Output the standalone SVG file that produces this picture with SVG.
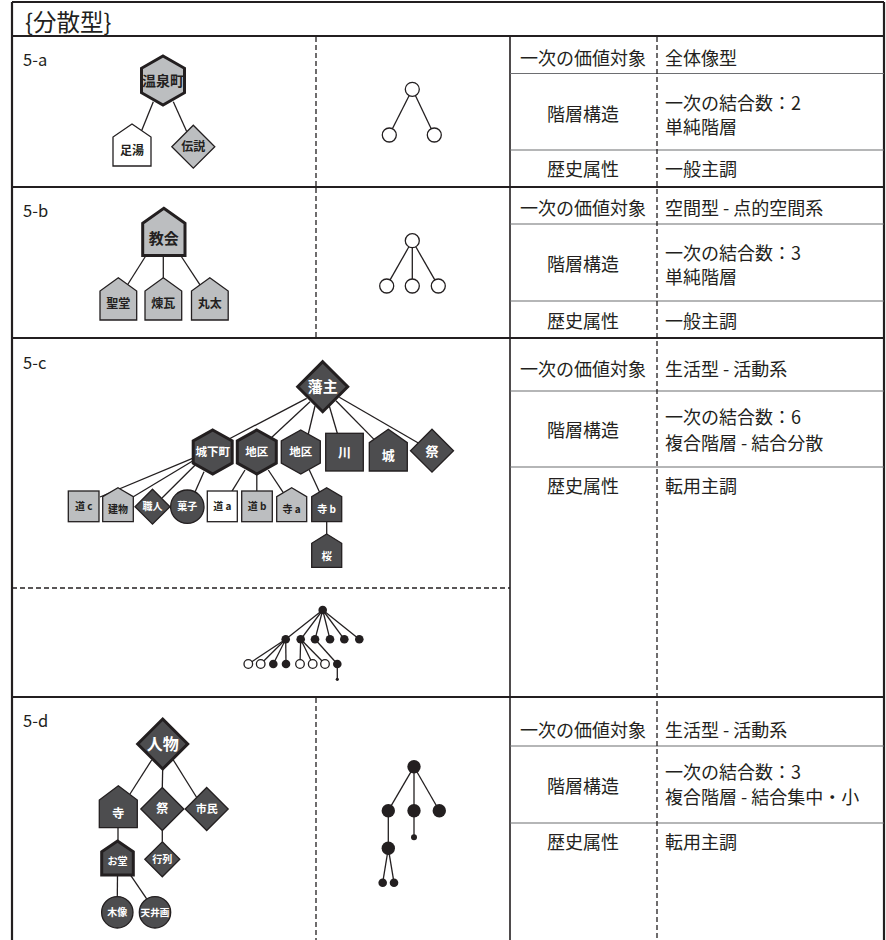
<svg xmlns="http://www.w3.org/2000/svg" width="886" height="940" viewBox="0 0 886 940">
<style>
.ln{stroke:#231f20;stroke-width:1.3;fill:none}
.nd{fill:#4d4d4f;stroke:#231f20;stroke-width:1.3}
.ng{fill:#bcbec0;stroke:#231f20;stroke-width:1.3}
.nw{fill:#fff;stroke:#231f20;stroke-width:1.3}
.bk{stroke-width:3}
.lb{font-family:"Noto Sans CJK JP","Noto Sans CJK SC",sans-serif;font-weight:700;text-anchor:middle}
.w{fill:#fff}
.d{fill:#231f20}
.tt{font-family:"Noto Sans CJK JP","Noto Sans CJK SC",sans-serif;font-size:18px;fill:#231f20}
.c{text-anchor:middle}
.frame{stroke:#231f20;stroke-width:2.2;fill:none}
.row{stroke:#6d6e71;stroke-width:1.2;fill:none}
.dash{stroke:#231f20;stroke-width:1.3;stroke-dasharray:5 3;fill:none}
.sc{fill:#fff;stroke:#231f20;stroke-width:1.3}
.sb{fill:#231f20}
</style>

<!-- frame -->
<g id="frame">
<line class="frame" x1="12" y1="2" x2="884" y2="2"/>
<line class="frame" x1="12" y1="2" x2="12" y2="940"/>
<line class="frame" x1="884" y1="2" x2="884" y2="940"/>
<line class="frame" x1="12" y1="36" x2="884" y2="36"/>
<line class="frame" x1="12" y1="187" x2="884" y2="187"/>
<line class="frame" x1="12" y1="338" x2="884" y2="338"/>
<line class="frame" x1="12" y1="697" x2="884" y2="697"/>
<line class="frame" x1="510" y1="36" x2="510" y2="940" style="stroke-width:1.6"/>
<line class="row" x1="510" y1="73.5" x2="884" y2="73.5"/>
<line class="row" x1="510" y1="150" x2="884" y2="150"/>
<line class="row" x1="510" y1="224" x2="884" y2="224"/>
<line class="row" x1="510" y1="301" x2="884" y2="301"/>
<line class="row" x1="510" y1="391" x2="884" y2="391"/>
<line class="row" x1="510" y1="467" x2="884" y2="467"/>
<line class="row" x1="510" y1="746" x2="884" y2="746"/>
<line class="row" x1="510" y1="823" x2="884" y2="823"/>
<line class="dash" x1="316" y1="37" x2="316" y2="186"/>
<line class="dash" x1="316" y1="188" x2="316" y2="337"/>
<line class="dash" x1="316" y1="698" x2="316" y2="940"/>
<line class="dash" x1="657" y1="37" x2="657" y2="940"/>
<line class="dash" x1="12" y1="588" x2="510" y2="588"/>
</g>

<text x="25" y="30.5" style="font-family:'Noto Sans CJK JP','Noto Sans CJK SC',sans-serif;font-size:23.5px;fill:#231f20">{分散型}</text>

<g class="tt">
<text x="23" y="65.5" style="font-size:16.5px">5-a</text>
<text x="23" y="217.4" style="font-size:16.5px">5-b</text>
<text x="23" y="368.7" style="font-size:16.5px">5-c</text>
<text x="23" y="726.7" style="font-size:16.5px">5-d</text>
</g>

<!-- table texts -->
<g class="tt">
<text class="c" x="583" y="64.8">一次の価値対象</text>
<text x="665" y="64.8">全体像型</text>
<text class="c" x="583" y="120.8">階層構造</text>
<text x="665" y="109.8">一次の結合数：2</text>
<text x="665" y="133.8">単純階層</text>
<text class="c" x="583" y="175.8">歴史属性</text>
<text x="665" y="175.8">一般主調</text>

<text class="c" x="583" y="214.8">一次の価値対象</text>
<text x="665" y="214.8">空間型 - 点的空間系</text>
<text class="c" x="583" y="270.8">階層構造</text>
<text x="665" y="259.8">一次の結合数：3</text>
<text x="665" y="283.8">単純階層</text>
<text class="c" x="583" y="327.8">歴史属性</text>
<text x="665" y="327.8">一般主調</text>

<text class="c" x="583" y="375.8">一次の価値対象</text>
<text x="665" y="375.8">生活型 - 活動系</text>
<text class="c" x="583" y="436.8">階層構造</text>
<text x="665" y="423.8">一次の結合数：6</text>
<text x="665" y="449.8">複合階層 - 結合分散</text>
<text class="c" x="583" y="492.8">歴史属性</text>
<text x="665" y="492.8">転用主調</text>

<text class="c" x="583" y="736.8">一次の価値対象</text>
<text x="665" y="736.8">生活型 - 活動系</text>
<text class="c" x="583" y="792.8">階層構造</text>
<text x="665" y="778.8">一次の結合数：3</text>
<text x="665" y="803.8">複合階層 - 結合集中・小</text>
<text class="c" x="583" y="848.8">歴史属性</text>
<text x="665" y="848.8">転用主調</text>
</g>

<!-- connectors -->
<g id="connectors" class="ln">
<line x1="153.3" y1="101.7" x2="141.7" y2="130.5"/>
<line x1="173.3" y1="101.7" x2="186.7" y2="131.5"/>
<line x1="145.7" y1="256" x2="127.7" y2="284.5"/>
<line x1="163.3" y1="256" x2="163.3" y2="278"/>
<line x1="181" y1="256" x2="200" y2="284.8"/>
<line x1="306.7" y1="398.3" x2="229" y2="439"/>
<line x1="310" y1="401.7" x2="271" y2="438"/>
<line x1="315" y1="406" x2="308.3" y2="434"/>
<line x1="329.3" y1="406" x2="337.3" y2="433.3"/>
<line x1="336" y1="400.7" x2="374" y2="439.4"/>
<line x1="339.3" y1="397.3" x2="418.3" y2="443"/>
<line x1="194.3" y1="457.7" x2="100" y2="497"/>
<line x1="194.3" y1="460" x2="133.3" y2="496.7"/>
<line x1="197" y1="463.3" x2="162" y2="498"/>
<line x1="204" y1="471.7" x2="195" y2="492"/>
<line x1="245" y1="470" x2="231.7" y2="491.7"/>
<line x1="256.8" y1="474" x2="256.8" y2="491"/>
<line x1="268.3" y1="470" x2="283.3" y2="492.7"/>
<line x1="309.3" y1="470" x2="319.5" y2="492"/>
<line x1="326.7" y1="521.7" x2="326.7" y2="534"/>
<line x1="151.7" y1="760" x2="130" y2="794"/>
<line x1="162.7" y1="768" x2="162.3" y2="787.5"/>
<line x1="173.3" y1="760" x2="196.7" y2="797.5"/>
<line x1="118" y1="827.7" x2="118" y2="841"/>
<line x1="162.3" y1="830.5" x2="162.3" y2="841.8"/>
<line x1="117.5" y1="875" x2="117.3" y2="896.6"/>
<line x1="130.7" y1="875.3" x2="146.7" y2="898.9"/>
</g>

<!-- 5-a nodes -->
<g id="n-onsenmachi"><polygon class="ng bk" points="163,56 184.5,68.3 184.5,92.7 163,105 141.5,92.7 141.5,68.3"/><text class="lb d" x="163" y="85.5" font-size="14">温泉町</text></g>
<g id="n-ashiyu"><polygon class="nw" points="132,124 151,137 151,166 113,166 113,137"/><text class="lb d" x="132" y="155" font-size="12">足湯</text></g>
<g id="n-densetsu"><polygon class="ng" points="193.3,125.2 214.8,146.7 193.3,168.2 171.8,146.7"/><text class="lb d" x="193.3" y="151" font-size="12">伝説</text></g>

<!-- 5-b nodes -->
<g id="n-kyoukai"><polygon class="ng bk" points="163.8,208.3 185,223.3 185,255.5 142.7,255.5 142.7,223.3"/><text class="lb d" x="163.8" y="243.8" font-size="15">教会</text></g>
<g id="n-seidou"><polygon class="ng" points="118.3,277.7 136.7,291 136.7,320 100,320 100,291"/><text class="lb d" x="118.3" y="307.5" font-size="12">聖堂</text></g>
<g id="n-renga"><polygon class="ng" points="163.3,277.7 181.7,291 181.7,320 145,320 145,291"/><text class="lb d" x="163.3" y="307.5" font-size="12">煉瓦</text></g>
<g id="n-maruta"><polygon class="ng" points="209.8,277.7 228.2,291 228.2,320 191.5,320 191.5,291"/><text class="lb d" x="209.8" y="307.5" font-size="12">丸太</text></g>

<!-- 5-c nodes -->
<g id="n-hanshu"><polygon class="nd bk" points="322.7,361.7 347.7,386.7 322.7,411.7 297.7,386.7"/><text class="lb w" x="322.7" y="392" font-size="15">藩主</text></g>
<g id="n-joukamachi"><polygon class="nd bk" points="212.7,430 232.2,441 232.2,463 212.7,474 193.2,463 193.2,441"/><text class="lb w" x="212.7" y="456" font-size="11.5">城下町</text></g>
<g id="n-chiku1"><polygon class="nd bk" points="256.8,430 276.3,441 276.3,463 256.8,474 237.3,463 237.3,441"/><text class="lb w" x="256.8" y="456" font-size="11.5">地区</text></g>
<g id="n-chiku2"><polygon class="nd" points="300.8,430 320.3,441 320.3,463 300.8,474 281.3,463 281.3,441"/><text class="lb w" x="300.8" y="456" font-size="11.5">地区</text></g>
<g id="n-kawa"><rect class="nd" x="325.7" y="433.3" width="37.6" height="37.7"/><text class="lb w" x="344.5" y="457" font-size="13">川</text></g>
<g id="n-shiro"><polygon class="nd" points="388.3,429.3 407.3,442.7 407.3,471 369.3,471 369.3,442.7"/><text class="lb w" x="388.3" y="460" font-size="13">城</text></g>
<g id="n-matsuri1"><polygon class="nd" points="432,429.2 453.5,450.7 432,472.2 410.5,450.7"/><text class="lb w" x="432" y="456" font-size="13">祭</text></g>
<g id="n-michic"><rect class="ng" x="68.3" y="491" width="30.7" height="30.7"/><text class="lb d" x="83.7" y="510" font-size="10">道 c</text></g>
<g id="n-tatemono"><polygon class="ng" points="118,487.7 133.3,496.7 133.3,521.7 102.7,521.7 102.7,496.7"/><text class="lb d" x="118" y="513" font-size="10">建物</text></g>
<g id="n-shokunin"><polygon class="nd" points="152.5,489.2 170,506.7 152.5,524.2 135,506.7"/><text class="lb w" x="152.5" y="510.3" font-size="10">職人</text></g>
<g id="n-kashi"><circle class="nd" cx="187.3" cy="506.7" r="16.7"/><text class="lb w" x="187.3" y="510.3" font-size="10">菓子</text></g>
<g id="n-michia"><rect class="nw" x="207.3" y="491" width="30" height="30.7"/><text class="lb d" x="222.3" y="510" font-size="10">道 a</text></g>
<g id="n-michib"><rect class="ng" x="241.7" y="491" width="30.6" height="30.7"/><text class="lb d" x="257" y="510" font-size="10">道 b</text></g>
<g id="n-teraa"><polygon class="ng" points="291.7,487.7 306.7,496.7 306.7,521.7 276.7,521.7 276.7,496.7"/><text class="lb d" x="291.7" y="513" font-size="10">寺 a</text></g>
<g id="n-terab"><polygon class="nd" points="326.7,487.7 341.7,496.7 341.7,521.7 311.7,521.7 311.7,496.7"/><text class="lb w" x="326.7" y="513" font-size="10">寺 b</text></g>
<g id="n-sakura"><polygon class="nd" points="326.7,534 341.7,543.3 341.7,567.3 311.7,567.3 311.7,543.3"/><text class="lb w" x="326.7" y="559.5" font-size="10.5">桜</text></g>

<!-- 5-d nodes -->
<g id="n-jinbutsu"><polygon class="nd bk" points="162.7,719 187.7,744 162.7,769 137.7,744"/><text class="lb w" x="162.7" y="750" font-size="16">人物</text></g>
<g id="n-tera"><polygon class="nd" points="118.3,785.7 137.3,800 137.3,827.7 99.3,827.7 99.3,800"/><text class="lb w" x="118.3" y="817.5" font-size="12">寺</text></g>
<g id="n-matsuri2"><polygon class="nd" points="162.3,787.5 183.8,809 162.3,830.5 140.8,809"/><text class="lb w" x="162.3" y="813" font-size="12">祭</text></g>
<g id="n-shimin"><polygon class="nd" points="206.7,787.5 228.2,809 206.7,830.5 185.2,809"/><text class="lb w" x="206.7" y="812.8" font-size="11">市民</text></g>
<g id="n-odou"><polygon class="nd bk" points="117.5,841 133.3,851.7 133.3,875 101.7,875 101.7,851.7"/><text class="lb w" x="117.5" y="865.3" font-size="10">お堂</text></g>
<g id="n-gyouretsu"><polygon class="nd" points="162.3,841.8 179.8,859.3 162.3,876.8 144.8,859.3"/><text class="lb w" x="162.3" y="862.8" font-size="10">行列</text></g>
<g id="n-mokuzou"><circle class="nd" cx="117.3" cy="912.3" r="15.7"/><text class="lb w" x="117.3" y="915.8" font-size="10">木像</text></g>
<g id="n-tenjouga"><circle class="nd" cx="155" cy="912.3" r="15.7"/><text class="lb w" x="155" y="915.6" font-size="9.6">天井画</text></g>

<!-- small trees -->
<g id="tree-5a">
<line class="ln" x1="409.2" y1="95.5" x2="392.4" y2="128.7"/>
<line class="ln" x1="415.4" y1="95.5" x2="431.2" y2="128.7"/>
<circle class="sc" cx="412.3" cy="89.3" r="7"/>
<circle class="sc" cx="389.3" cy="135" r="7"/>
<circle class="sc" cx="434.3" cy="135" r="7"/>
</g>
<g id="tree-5b">
<line class="ln" x1="408.9" y1="246.8" x2="390.1" y2="279.9"/>
<line class="ln" x1="412.3" y1="247.7" x2="412.3" y2="279"/>
<line class="ln" x1="415.8" y1="246.8" x2="434.8" y2="279.9"/>
<circle class="sc" cx="412.3" cy="240.7" r="7"/>
<circle class="sc" cx="386.7" cy="286" r="7"/>
<circle class="sc" cx="412.3" cy="286" r="7"/>
<circle class="sc" cx="438.3" cy="286" r="7"/>
</g>
<g id="tree-5c">
<g class="ln">
<line x1="322.7" y1="610" x2="285.7" y2="639.3"/>
<line x1="322.7" y1="610" x2="300.7" y2="639.3"/>
<line x1="322.7" y1="610" x2="315" y2="639.3"/>
<line x1="322.7" y1="610" x2="330" y2="639.3"/>
<line x1="322.7" y1="610" x2="344.3" y2="639.3"/>
<line x1="322.7" y1="610" x2="359.3" y2="639.3"/>
<line x1="285.7" y1="639.3" x2="248.3" y2="664"/>
<line x1="285.7" y1="639.3" x2="260.7" y2="664"/>
<line x1="285.7" y1="639.3" x2="273.3" y2="664"/>
<line x1="285.7" y1="639.3" x2="286" y2="664"/>
<line x1="300.7" y1="639.3" x2="300" y2="664"/>
<line x1="300.7" y1="639.3" x2="312.7" y2="664"/>
<line x1="300.7" y1="639.3" x2="325" y2="664"/>
<line x1="315" y1="639.3" x2="337.3" y2="664"/>
<line x1="337.3" y1="664" x2="337.3" y2="679.3"/>
</g>
<circle class="sb" cx="322.7" cy="610" r="4.3"/>
<circle class="sb" cx="285.7" cy="639.3" r="4.3"/>
<circle class="sb" cx="300.7" cy="639.3" r="4.3"/>
<circle class="sb" cx="315" cy="639.3" r="4.3"/>
<circle class="sb" cx="330" cy="639.3" r="4.3"/>
<circle class="sb" cx="344.3" cy="639.3" r="4.3"/>
<circle class="sb" cx="359.3" cy="639.3" r="4.3"/>
<circle class="sc" cx="248.3" cy="664" r="4.3"/>
<circle class="sc" cx="260.7" cy="664" r="4.3"/>
<circle class="sb" cx="273.3" cy="664" r="4.3"/>
<circle class="sb" cx="286" cy="664" r="4.3"/>
<circle class="sc" cx="300" cy="664" r="4.3"/>
<circle class="sc" cx="312.7" cy="664" r="4.3"/>
<circle class="sc" cx="325" cy="664" r="4.3"/>
<circle class="sb" cx="337.3" cy="664" r="4.3"/>
<circle class="sb" cx="337.3" cy="679.3" r="1.6"/>
</g>
<g id="tree-5d">
<g class="ln">
<line x1="414" y1="766.7" x2="388.3" y2="810.7"/>
<line x1="414" y1="766.7" x2="414" y2="837.3"/>
<line x1="414" y1="766.7" x2="439.3" y2="810.7"/>
<line x1="388.3" y1="810.7" x2="388.3" y2="848.3"/>
<line x1="388.3" y1="848.3" x2="382.7" y2="882.7"/>
<line x1="388.3" y1="848.3" x2="394" y2="882.7"/>
</g>
<circle class="sb" cx="414" cy="766.7" r="6.7"/>
<circle class="sb" cx="388.3" cy="810.7" r="6.7"/>
<circle class="sb" cx="414" cy="810.7" r="6.7"/>
<circle class="sb" cx="439.3" cy="810.7" r="6.7"/>
<circle class="sb" cx="414" cy="837.3" r="3"/>
<circle class="sb" cx="388.3" cy="848.3" r="6.7"/>
<circle class="sb" cx="382.7" cy="882.7" r="4.3"/>
<circle class="sb" cx="394" cy="882.7" r="4.3"/>
</g>
</svg>
